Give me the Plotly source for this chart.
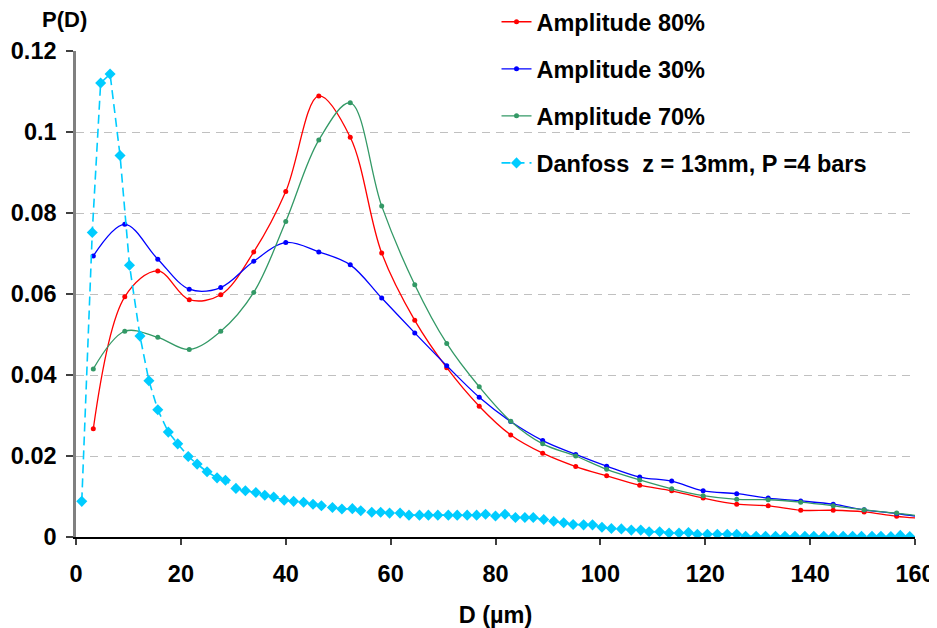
import plotly.graph_objects as go

# Diameter classes (µm) for the three amplitude series
d_amp = [3.3, 9.3, 15.6, 21.6, 27.6, 33.9, 40.0, 46.3, 52.3, 58.3, 64.6, 70.7, 76.9,
         82.9, 89.0, 95.3, 101.2, 107.5, 113.6, 119.6, 126.0, 132.0, 138.2, 144.4,
         150.3, 156.5, 162.6]

amp80 = [0.0267, 0.0593, 0.0657, 0.0586, 0.0598, 0.0704, 0.0853, 0.1089, 0.0987, 0.0701,
         0.0535, 0.0418, 0.0323, 0.0252, 0.0207, 0.0174, 0.0151, 0.0128, 0.0114, 0.0096,
         0.0081, 0.0077, 0.0066, 0.0066, 0.0062, 0.0051, 0.0045]

amp30 = [0.0694, 0.0772, 0.0686, 0.0612, 0.0616, 0.0681, 0.0727, 0.0704, 0.0672, 0.0590,
         0.0504, 0.0423, 0.0345, 0.0285, 0.0238, 0.0204, 0.0175, 0.0148, 0.0138, 0.0114,
         0.0107, 0.0096, 0.0089, 0.0081, 0.0067, 0.0058, 0.0046]

amp70 = [0.0415, 0.0508, 0.0493, 0.0463, 0.0508, 0.0604, 0.0779, 0.0980, 0.1072, 0.0817,
         0.0623, 0.0478, 0.0371, 0.0286, 0.0230, 0.0200, 0.0167, 0.0141, 0.0119, 0.0102,
         0.0093, 0.0092, 0.0086, 0.0077, 0.0067, 0.0059, 0.0049]

# Danfoss reference distribution
d_dan = [1.1, 3.1, 4.7, 6.5, 8.4, 10.2, 12.2, 13.9, 15.6, 17.6,
         19.4, 21.4, 23.1, 25.0, 26.9, 28.5, 30.5, 32.3, 34.3, 36.0,
         37.7, 39.7, 41.5, 43.4, 45.2, 46.8, 48.9, 50.7, 52.7, 54.3,
         56.4, 58.1, 59.8, 61.8, 63.5, 65.5, 67.2, 69.0, 71.0, 72.7,
         74.6, 76.4, 78.1, 80.0, 81.8, 83.8, 85.6, 87.2, 89.2, 91.1,
         93.0, 94.8, 96.8, 98.5, 100.3, 102.1, 104.0, 105.9, 107.7, 109.3,
         111.3, 113.1, 115.0, 116.8, 118.5, 120.4, 122.3, 124.2, 126.0, 127.7,
         129.7, 131.5, 133.4, 135.2, 137.1, 139.0, 140.7, 142.6, 144.4, 146.3,
         148.1, 149.8, 151.8, 153.5, 155.4, 157.2, 159.0]

p_dan = [0.0088, 0.0752, 0.1121, 0.1143, 0.0942, 0.0671, 0.0496, 0.0386, 0.0314, 0.0259,
         0.0230, 0.0199, 0.0180, 0.0161, 0.0146, 0.0140, 0.0120, 0.0114, 0.0110, 0.0103,
         0.0099, 0.0091, 0.0088, 0.0086, 0.0081, 0.0077, 0.0073, 0.0069, 0.0070, 0.0065,
         0.0061, 0.0061, 0.0059, 0.0059, 0.0054, 0.0054, 0.0054, 0.0054, 0.0054, 0.0054,
         0.0054, 0.0054, 0.0056, 0.0052, 0.0056, 0.0048, 0.0048, 0.0048, 0.0043, 0.0039,
         0.0035, 0.0031, 0.0030, 0.0030, 0.0024, 0.0021, 0.0020, 0.0017, 0.0017, 0.0013,
         0.0013, 0.0010, 0.0010, 0.0011, 0.0007, 0.0007, 0.0007, 0.0007, 0.0007, 0.0002,
         0.0002, 0.0002, 0.0002, 0.0002, 0.0002, 0.0002, 0.0002, 0.0002, 0.0002, 0.0002,
         0.0002, 0.0002, 0.0002, 0.0002, 0.0001, 0.0004, 0.0001]

names = ["Amplitude 80%", "Amplitude 30%", "Amplitude 70%", "Danfoss  z = 13mm, P =4 bars"]
colors = ["#FF0000", "#0000FF", "#339966", "#00CCFF"]

FONT = "Liberation Sans, Arial, sans-serif"
FS = 23.5

fig = go.Figure()
for i, (name, ys) in enumerate(zip(names[:3], [amp80, amp30, amp70])):
    fig.add_trace(go.Scatter(
        x=d_amp, y=ys, name=name, mode="lines+markers", legendgroup=f"g{i}",
        line=dict(color=colors[i], width=1.3, shape="spline", smoothing=1.0),
        marker=dict(color=colors[i], size=5, symbol="circle"),
    ))

fig.add_trace(go.Scatter(
    x=d_dan, y=p_dan, name=names[3], mode="lines+markers", legendgroup="g3",
    line=dict(color=colors[3], width=1.6, dash="9px,5px"),
    marker=dict(color=colors[3], size=8.5, symbol="diamond"),
))

# white area behind the legend hiding the gridlines
fig.add_shape(type="rect", xref="paper", yref="y", x0=0.3945, x1=1.0, y0=0.09, y1=0.125,
              fillcolor="white", line=dict(width=0), layer="between")

fig.add_annotation(text="P(D)", xref="paper", yref="paper", x=-0.0143, y=1.0648,
                   xanchor="center", yanchor="middle", showarrow=False,
                   font=dict(family=FONT, size=22, color="black", weight="bold"))

# the page body adds an 8px offset, so the figure is 8px smaller than the window
fig.update_layout(
    width=929, height=620, autosize=False,
    margin=dict(l=68, r=22, t=43, b=91, autoexpand=False),
    paper_bgcolor="white", plot_bgcolor="white",
    font=dict(family=FONT, size=FS, color="black", weight="bold"),
    showlegend=True,
    legend=dict(x=0.5012, y=1.105, xanchor="left", yanchor="top",
                bgcolor="rgba(0,0,0,0)", traceorder="grouped", tracegroupgap=13.5,
                font=dict(family=FONT, size=FS, color="black", weight="bold")),
    xaxis=dict(range=[0, 160], dtick=20, showgrid=False, zeroline=False,
               automargin=False,
               showline=True, linecolor="black", linewidth=1.5,
               ticks="outside", ticklen=6, tickcolor="#404040", tickwidth=1.5,
               ticklabelstandoff=9,
               tickfont=dict(family=FONT, size=FS, color="black", weight="bold"),
               title=dict(text="D (µm)", standoff=22,
                          font=dict(family=FONT, size=FS, color="black", weight="bold"))),
    yaxis=dict(range=[0, 0.12], dtick=0.02, showgrid=True, gridcolor="#C0C0C0",
               griddash="8px,6px", gridwidth=1, zeroline=False,
               automargin=False,
               showline=True, linecolor="#808080", linewidth=2.5,
               ticks="outside", ticklen=7, tickcolor="#404040", tickwidth=1.5,
               ticklabelstandoff=5,
               tickfont=dict(family=FONT, size=FS, color="black", weight="bold")),
)

fig.write_html("out.html", config={"displayModeBar": False})
